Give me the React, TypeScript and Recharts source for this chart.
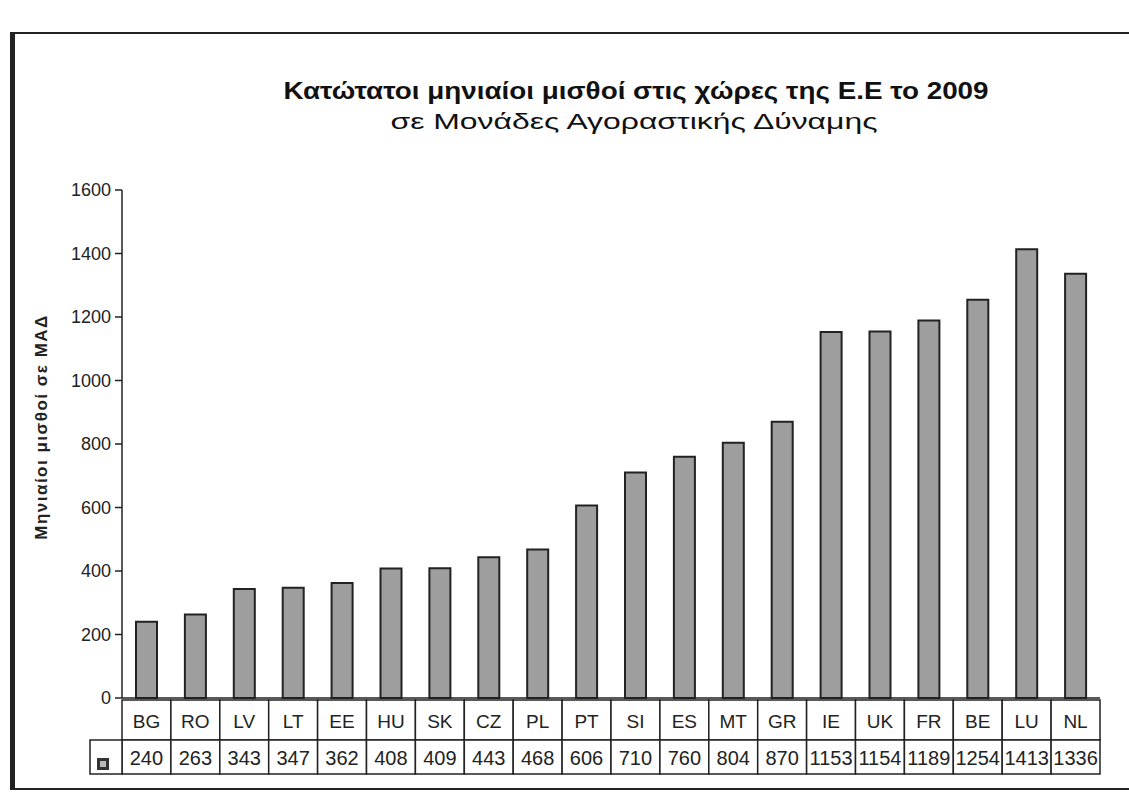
import { BarChart, Bar, XAxis, YAxis } from 'recharts'

const countries = ['BG', 'RO', 'LV', 'LT', 'EE', 'HU', 'SK', 'CZ', 'PL', 'PT', 'SI', 'ES', 'MT', 'GR', 'IE', 'UK', 'FR', 'BE', 'LU', 'NL']
const wages = [240, 263, 343, 347, 362, 408, 409, 443, 468, 606, 710, 760, 804, 870, 1153, 1154, 1189, 1254, 1413, 1336]
const yTicks = [0, 200, 400, 600, 800, 1000, 1200, 1400, 1600]

const data = countries.map((c, i) => ({ country: c, value: wages[i] }))

const FONT = '"Liberation Sans", Arial, sans-serif'
const PLOT_W = 978
const CELL = PLOT_W / countries.length

function TableTick({ x, y, payload, index }: { x: number; y: number; payload: { value: string }; index: number }) {
  const left = x - CELL / 2
  const top = y
  return (
    <g>
      <rect x={left} y={top} width={CELL} height={40} fill="#fff" stroke="#222" strokeWidth={1.5} />
      <text x={x} y={top + 28} textAnchor="middle" fontSize={19} fill="#222" fontFamily={FONT}>
        {payload.value}
      </text>
      <rect x={left} y={top + 40} width={CELL} height={34} fill="#fff" stroke="#222" strokeWidth={1.5} />
      <text x={x} y={top + 65} textAnchor="middle" fontSize={20} fill="#222" fontFamily={FONT}>
        {wages[index]}
      </text>
      {index === 0 && (
        <g>
          <rect x={left - 32} y={top + 40} width={32} height={34} fill="#fff" stroke="#222" strokeWidth={1.5} />
          <rect x={left - 25} y={top + 58} width={12} height={12} fill="#333" />
          <rect x={left - 22} y={top + 61} width={6} height={6} fill="#bbb" />
        </g>
      )}
    </g>
  )
}

function YTick({ x, y, payload }: { x: number; y: number; payload: { value: number } }) {
  return (
    <text x={x} y={y + 6} textAnchor="end" fontSize={18} fill="#222" fontFamily={FONT}>
      {payload.value}
    </text>
  )
}

export default function App() {
  return (
    <div style={{ position: 'absolute', left: 0, top: 0, width: 1129, height: 803, background: '#fff', fontFamily: FONT }}>
      <div style={{ position: 'absolute', left: 10, top: 32, width: 1119, height: 754, borderLeft: '5px solid #222', borderTop: '2px solid #222', borderBottom: '2px solid #222' }} />
      <div style={{ position: 'absolute', left: 0, width: 1272, top: 78, textAlign: 'center', fontSize: 23, fontWeight: 'bold', color: '#111', transform: 'scaleX(1.21)', transformOrigin: '636px 0' }}>
        Κατώτατοι μηνιαίοι μισθοί στις χώρες της Ε.Ε το 2009
      </div>
      <div style={{ position: 'absolute', left: 0, width: 1268, top: 109, textAlign: 'center', fontSize: 22, color: '#111', transform: 'scaleX(1.45)', transformOrigin: '634px 0' }}>
        σε Μονάδες Αγοραστικής Δύναμης
      </div>
      <BarChart
        width={1129}
        height={803}
        data={data}
        margin={{ top: 190, right: 29, bottom: 30, left: 62 }}
        style={{ position: 'absolute', left: 0, top: 0 }}
      >
        <XAxis
          dataKey="country"
          height={75}
          tickSize={0}
          tickMargin={2}
          interval={0}
          axisLine={{ stroke: '#222', strokeWidth: 1.5 }}
          tick={(props: any) => <TableTick {...props} />}
        />
        <YAxis
          width={60}
          domain={[0, 1600]}
          ticks={yTicks}
          tickSize={7}
          tickMargin={4}
          axisLine={{ stroke: '#222', strokeWidth: 1.5 }}
          tickLine={{ stroke: '#222', strokeWidth: 1.5 }}
          tick={(props: any) => <YTick {...props} />}
          label={{
            content: () => (
              <text
                x={47}
                y={427}
                transform="rotate(-90, 47, 427)"
                textAnchor="middle"
                fontSize={17}
                fontWeight="bold"
                letterSpacing={1.5}
                fill="#222"
                fontFamily={FONT}
              >
                Μηνιαίοι μισθοί σε ΜΑΔ
              </text>
            ),
          }}
        />
        <Bar dataKey="value" barSize={21} fill="#9e9e9e" stroke="#222" strokeWidth={2} isAnimationActive={false} />
      </BarChart>
    </div>
  )
}
